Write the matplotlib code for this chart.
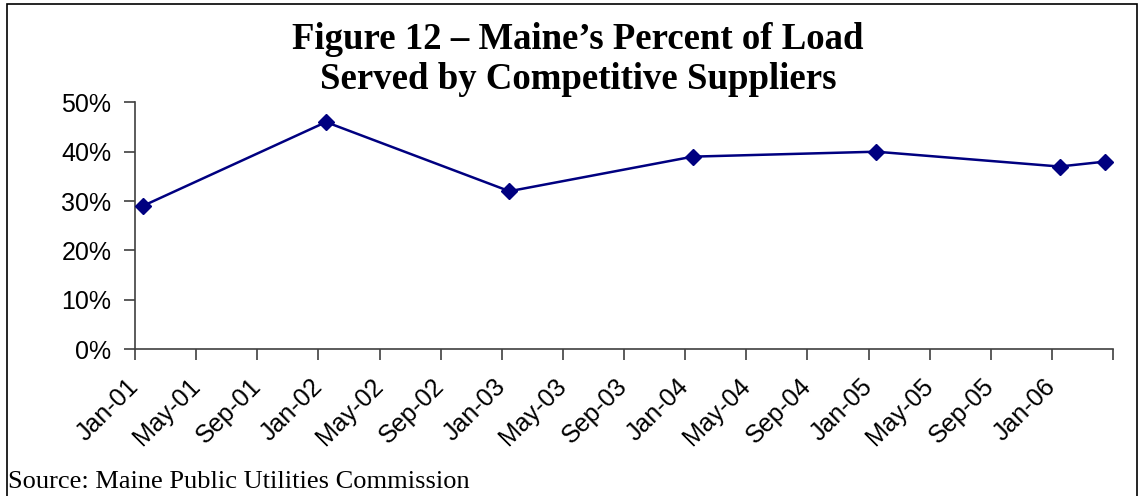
import matplotlib
matplotlib.use("Agg")
import matplotlib.pyplot as plt
from matplotlib.patches import Rectangle

# survey dates (year-month) and percent of load served by competitive suppliers
dates = ["2001-01", "2002-01", "2003-01", "2004-01", "2005-01", "2006-01", "2006-04"]
percent = [29, 46, 32, 39, 40, 37, 38]

tick_labels = ["Jan-01", "May-01", "Sep-01", "Jan-02", "May-02", "Sep-02",
               "Jan-03", "May-03", "Sep-03", "Jan-04", "May-04", "Sep-04",
               "Jan-05", "May-05", "Sep-05", "Jan-06"]
y_ticks = [0, 10, 20, 30, 40, 50]

title_lines = ["Figure 12 \u2013 Maine\u2019s Percent of Load",
               "Served by Competitive Suppliers"]
source = "Source: Maine Public Utilities Commission"


def month_index(s):
    # months since Jan-01, centred in the month like an Excel date axis
    y, m = s.split("-")
    return (int(y) - 2001) * 12 + (int(m) - 1) + 0.5


x = [month_index(d) for d in dates]

fig = plt.figure(figsize=(11.4, 4.96), dpi=100)
ax = fig.add_axes([135 / 1140, 1 - 349.3 / 496, (1113 - 135) / 1140, (349.3 - 102.3) / 496])

ax.plot(x, percent, color="#000080", linewidth=1.8, marker="D", markersize=8,
        markerfacecolor="#000080", markeredgecolor="#000080", clip_on=False, zorder=3)

ax.set_xlim(0, 64)
ax.set_ylim(0, 50)

ax.set_xticks(list(range(0, 4 * len(tick_labels), 4)) + [64])
ax.set_xticklabels(tick_labels + [""], rotation=45, ha="right", va="center",
                   rotation_mode="anchor", fontsize=18, family="Liberation Sans")
ax.set_yticks(y_ticks)
ax.set_yticklabels([f"{v}%" for v in y_ticks], fontsize=18, family="Liberation Sans")

for side in ["top", "right"]:
    ax.spines[side].set_visible(False)
for side in ["left", "bottom"]:
    ax.spines[side].set_color("#404040")
    ax.spines[side].set_linewidth(1.2)
ax.tick_params(axis="both", direction="out", length=8, width=1.2, color="#404040")
ax.tick_params(axis="x", pad=16)
ax.tick_params(axis="y", pad=9)

# title as two baseline-placed lines
for line, base in zip(title_lines, [49, 89]):
    fig.text(0.507, 1 - base / 496, line, ha="center", va="baseline", fontsize=26.5,
             fontweight="bold", family="Liberation Serif")
fig.text(8 / 1140, 1 - 482 / 496, source, ha="left", va="center", fontsize=19,
         family="Liberation Serif")

fig.patches.append(Rectangle((7 / 1140, -0.05), (1137 - 7) / 1140, 1.05 - 4 / 496,
                             transform=fig.transFigure, fill=False,
                             edgecolor="black", linewidth=1.2))

fig.savefig("out.png", dpi=100)
